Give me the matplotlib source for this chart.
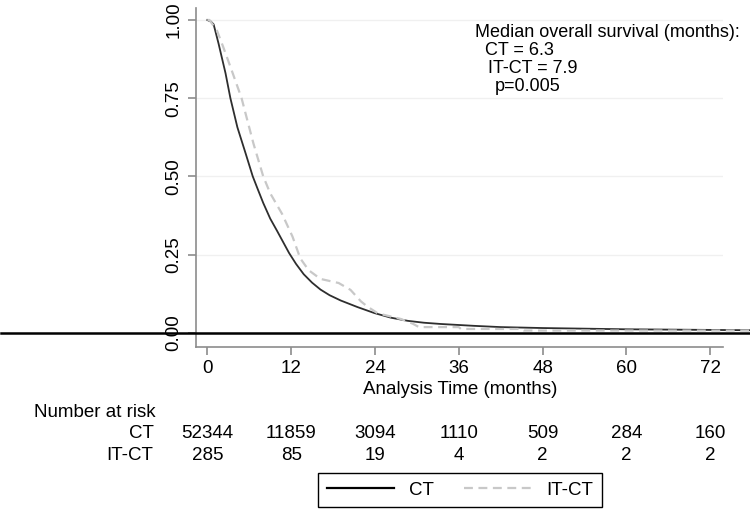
import matplotlib
matplotlib.use("Agg")
import matplotlib.pyplot as plt
from matplotlib.lines import Line2D
from matplotlib.transforms import blended_transform_factory

plt.rcParams['font.family'] = ['Liberation Sans', 'DejaVu Sans']
plt.rcParams['font.size'] = 13

# Kaplan-Meier curves (months, survival)
ct_time = [0, 0.5, 0.9, 1.6, 2.6, 3.3, 4.3, 5.5, 6.5, 7.2, 8.0, 9.0, 10.0, 11.7, 12.7, 13.8, 15.0, 16.2,
           17.5, 19.1, 21.5, 23.9, 26.3, 28.7, 31.0, 33.4, 38.2, 42, 48, 54, 60, 66, 72, 78]
ct_surv = [1.0, 0.995, 0.986, 0.925, 0.83, 0.75, 0.657, 0.572, 0.50, 0.46, 0.415, 0.365, 0.325, 0.255, 0.22, 0.187, 0.16, 0.138,
           0.12, 0.103, 0.082, 0.063, 0.048, 0.038, 0.032, 0.028, 0.022, 0.018, 0.015, 0.013, 0.011, 0.010, 0.009, 0.008]

itct_time = [0, 0.3, 1.4, 2.3, 3.5, 4.9, 5.6, 6.6, 8.0, 9.0, 10.7, 12.2, 13.3, 14.5, 16.2,
             18.8, 20.5, 22.0, 22.9, 24.4, 27.7, 29.4, 30.3, 36.0, 36.3, 45.0, 45.3, 78]
itct_surv = [1.0, 1.0, 0.965, 0.912, 0.838, 0.75, 0.69, 0.605, 0.50, 0.446, 0.38, 0.307, 0.238, 0.20, 0.172,
             0.159, 0.137, 0.10, 0.084, 0.062, 0.044, 0.029, 0.018, 0.018, 0.012, 0.012, 0.007, 0.007]

# number at risk table
risk_times = [0, 12, 24, 36, 48, 60, 72]
risk_ct = [52344, 11859, 3094, 1110, 509, 284, 160]
risk_itct = [285, 85, 19, 4, 2, 2, 2]

x_ticks = [0, 12, 24, 36, 48, 60, 72]
y_ticks = [0, 0.25, 0.5, 0.75, 1.0]

fig = plt.figure(figsize=(7.5, 5.11), dpi=100)
ax = fig.add_axes([0.261, 0.3209, 0.7027, 0.6629])

spine_col = '#8c8c8c'
for s in ['top', 'right']:
    ax.spines[s].set_visible(False)
for s in ['left', 'bottom']:
    ax.spines[s].set_color(spine_col)
    ax.spines[s].set_linewidth(1.2)

ax.set_xlim(-1.66, 73.8)
ax.set_ylim(-0.0457, 1.0374)
ax.set_xticks(x_ticks)
ax.set_yticks(y_ticks)
ax.set_yticklabels([f"{v:.2f}" for v in y_ticks], rotation=90, va='center')
ax.tick_params(colors=spine_col, labelcolor='black', width=1.2, length=5.5, labelsize=13.5)
ax.tick_params(axis='x', pad=4)
ax.tick_params(axis='y', pad=4)
ax.yaxis.grid(True, color='#f0f0f0', linewidth=1.0)

# thick black line at zero running across the whole figure
ax.axhline(0, xmin=-0.37, xmax=1.06, color='black', linewidth=1.8, clip_on=False, zorder=2.6)

ax.plot(ct_time, ct_surv, color='#2e2e2e', linewidth=1.3, clip_on=False, zorder=2.7)
ax.plot(itct_time, itct_surv, color='#c8c8c8', linewidth=1.6, dashes=(4, 2.5),
        clip_on=False, zorder=2.8)

fig.text(0.613, 0.2284, 'Analysis Time (months)', ha='center', va='baseline', fontsize=13.5)

# median survival annotation
fig.text(475 / 750, 1 - 37.3 / 511, 'Median overall survival (months):', va='baseline', fontsize=13)
fig.text(485 / 750, 1 - 55.0 / 511, 'CT = 6.3', va='baseline', fontsize=13)
fig.text(488 / 750, 1 - 72.7 / 511, 'IT-CT = 7.9', va='baseline', fontsize=13)
fig.text(495 / 750, 1 - 90.7 / 511, 'p=0.005', va='baseline', fontsize=13)

# number at risk
tr = blended_transform_factory(ax.transData, fig.transFigure)
fig.text(34 / 750, 1 - 417 / 511, 'Number at risk', va='baseline', fontsize=13.5)
fig.text(153.5 / 750, 1 - 438 / 511, 'CT', ha='right', va='baseline', fontsize=13.5)
fig.text(153.5 / 750, 1 - 460 / 511, 'IT-CT', ha='right', va='baseline', fontsize=13.5)
for t, n1, n2 in zip(risk_times, risk_ct, risk_itct):
    ax.text(t, 1 - 438 / 511, str(n1), transform=tr, ha='center', va='baseline', fontsize=13.5)
    ax.text(t, 1 - 460 / 511, str(n2), transform=tr, ha='center', va='baseline', fontsize=13.5)

handles = [Line2D([], [], color='black', linewidth=1.6),
           Line2D([], [], color='#c8c8c8', linewidth=1.6, dashes=(4, 2.5))]
leg = fig.legend(handles, ['CT', 'IT-CT'], ncol=2, loc='center',
                 bbox_to_anchor=(460 / 750, 1 - 490 / 511), frameon=True, fancybox=False,
                 fontsize=13.5, handlelength=3.6, handletextpad=0.8, columnspacing=1.6,
                 borderpad=0.45, edgecolor='black', framealpha=1)
leg.get_frame().set_linewidth(1.0)

fig.savefig('out.png', dpi=100, facecolor='white')
